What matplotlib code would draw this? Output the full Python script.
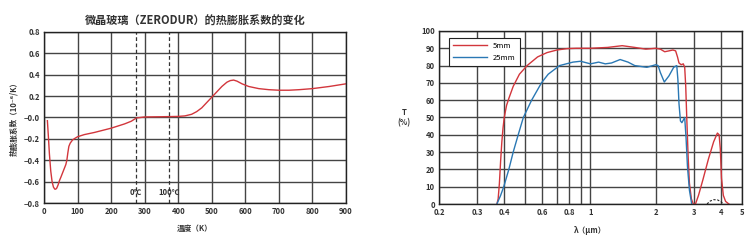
import matplotlib.pyplot as plt
import numpy as np

plt.rcParams['font.family'] = ['Noto Sans CJK SC', 'DejaVu Sans']

# left chart: thermal expansion of ZERODUR
temp_k = [10, 13, 16, 20, 24, 28, 32, 35, 38, 42, 46, 50, 55, 60, 65, 68, 71, 74, 78, 85, 92,
          100, 120, 150, 200, 240, 260, 275, 300, 350, 400, 420, 440, 455, 470, 485, 500, 515,
          530, 545, 555, 565, 575, 590, 610, 640, 670, 700, 730, 760, 800, 850, 900]
cte = [-0.03, -0.18, -0.34, -0.50, -0.60, -0.65, -0.67, -0.67, -0.66, -0.63, -0.59, -0.56,
       -0.52, -0.48, -0.44, -0.40, -0.33, -0.27, -0.24, -0.21, -0.195, -0.18, -0.16, -0.14,
       -0.10, -0.06, -0.035, -0.005, 0.005, 0.007, 0.01, 0.015, 0.03, 0.055, 0.09, 0.14, 0.19,
       0.24, 0.29, 0.33, 0.345, 0.35, 0.34, 0.315, 0.29, 0.27, 0.26, 0.255, 0.255, 0.26, 0.27,
       0.29, 0.315]
marks_k = [273, 373]
marks_lbl = ['0℃', '100℃']

# right chart: transmission
wl_5 = [0.37, 0.375, 0.38, 0.385, 0.39, 0.395, 0.40, 0.41, 0.42, 0.44, 0.47, 0.51, 0.57, 0.63,
        0.7, 0.78, 0.86, 1.0, 1.2, 1.4, 1.6, 1.8, 2.0, 2.1, 2.2, 2.3, 2.4, 2.47, 2.52, 2.56,
        2.62, 2.68, 2.72, 2.75, 2.78, 2.82, 2.86, 2.92, 2.98, 3.05, 3.15, 3.3, 3.5, 3.7, 3.85,
        3.92, 3.97, 4.02, 4.1, 4.2, 4.35]
t_5 = [0, 3, 12, 25, 36, 44, 50, 57, 61, 68, 75, 80, 85, 87.5, 89, 89.8, 90, 90, 90.5, 91.5,
       90.5, 89.5, 90, 89.5, 88, 88.5, 89, 88.5, 85, 81.5, 80.5, 81, 79, 68, 50, 28, 12, 3, 0,
       0, 5, 14, 26, 36, 41, 40, 32, 15, 5, 1.5, 0]
wl_25 = [0.37, 0.385, 0.398, 0.42, 0.44, 0.464, 0.49, 0.535, 0.594, 0.638, 0.72, 0.83, 0.9,
         1.0, 1.09, 1.17, 1.25, 1.37, 1.49, 1.6, 1.82, 2.0, 2.05, 2.1, 2.19, 2.3, 2.42, 2.5,
         2.53, 2.56, 2.6, 2.64, 2.68, 2.72, 2.76, 2.8, 2.86, 2.93]
t_25 = [0, 5, 10, 20, 30, 40, 50, 60, 70, 75, 80, 82, 82.5, 81, 82, 81, 81.5, 83.5, 82, 80,
        79, 80.5, 80, 76, 70.5, 74, 79, 80, 72, 58, 48, 47, 48.5, 50, 38, 22, 8, 0]
arc_wl = [3.45, 3.55, 3.7, 3.85, 4.0, 4.1]
arc_t = [0, 1.6, 2.5, 2.4, 1.3, 0]

red = '#d2363c'
blue = '#2a78b4'
grid_c = '#444444'

fig = plt.figure(figsize=(7.54, 2.42), dpi=100)

# left plot
ax1 = fig.add_axes([0.0584, 0.161, 0.4005, 0.707])
ax1.plot(temp_k, cte, color=red, lw=1.0)
for xm, lbl in zip(marks_k, marks_lbl):
    ax1.axvline(xm, color='#333333', lw=0.9, ls=(0, (3, 2)))
    ax1.text(xm, -0.7, lbl, ha='center', va='center', fontsize=5.5, fontweight='bold', color='#333333')
ax1.set_xlim(0, 900)
ax1.set_ylim(-0.8, 0.8)
ax1.set_xticks(np.arange(0, 901, 100))
ax1.set_yticks(np.arange(-0.8, 0.81, 0.2))
ax1.set_yticklabels([f'{v:.1f}'.replace('-', '−') for v in np.arange(-0.8, 0.81, 0.2)])
ax1.grid(True, color=grid_c, lw=1.0)
ax1.set_axisbelow(True)
ax1.tick_params(length=0, labelsize=5.5, pad=3, colors='#333333')
for lab in ax1.get_xticklabels() + ax1.get_yticklabels():
    lab.set_fontweight('bold')
ax1.set_title('微晶玻璃（ZERODUR）的热膨胀系数的变化', fontsize=8, fontweight='bold', color='#333333', pad=5)
ax1.set_xlabel('温度（K）', fontsize=5.5, fontweight='bold', color='#333333', labelpad=6)
ax1.set_ylabel('热膨胀系数（10⁻⁶/K）', fontsize=5.5, fontweight='bold', color='#333333', labelpad=4)
for s in ax1.spines.values():
    s.set_color('#222222')
    s.set_linewidth(1.0)

# right plot
ax2 = fig.add_axes([0.5822, 0.157, 0.4019, 0.715])
ax2.set_xscale('log')
ax2.plot(wl_5, t_5, color=red, lw=1.0, label='5mm')
ax2.plot(wl_25, t_25, color=blue, lw=1.0, label='25mm')
ax2.plot(arc_wl, arc_t, color='#222222', lw=0.8, ls=(0, (2, 1.5)))
ax2.set_xlim(0.2, 5)
ax2.set_ylim(0, 100)
xt = [0.2, 0.3, 0.4, 0.5, 0.6, 0.7, 0.8, 0.9, 1, 2, 3, 4, 5]
xl = ['0.2', '0.3', '0.4', '', '0.6', '', '0.8', '', '1', '2', '3', '4', '5']
ax2.set_xticks(xt)
ax2.set_xticklabels(xl)
ax2.minorticks_off()
ax2.set_yticks(np.arange(0, 101, 10))
ax2.grid(True, color=grid_c, lw=1.0)
ax2.set_axisbelow(True)
ax2.tick_params(length=0, labelsize=5.5, pad=3, colors='#333333')
for lab in ax2.get_xticklabels() + ax2.get_yticklabels():
    lab.set_fontweight('bold')
ax2.set_xlabel('λ（μm）', fontsize=5.5, fontweight='bold', color='#333333', labelpad=6)
ax2.set_ylabel('T\n(%)', fontsize=5.5, fontweight='bold', color='#333333', rotation=0,
               va='center', ha='center', labelpad=12)
for s in ax2.spines.values():
    s.set_color('#222222')
    s.set_linewidth(1.0)
leg = ax2.legend(loc='upper left', fontsize=5.5, frameon=True, fancybox=False,
                 edgecolor='#222222', framealpha=1, handlelength=4.5, borderpad=0.5,
                 bbox_to_anchor=(0.02, 0.98))
leg.get_frame().set_linewidth(0.8)

fig.savefig('out.png', dpi=100)
